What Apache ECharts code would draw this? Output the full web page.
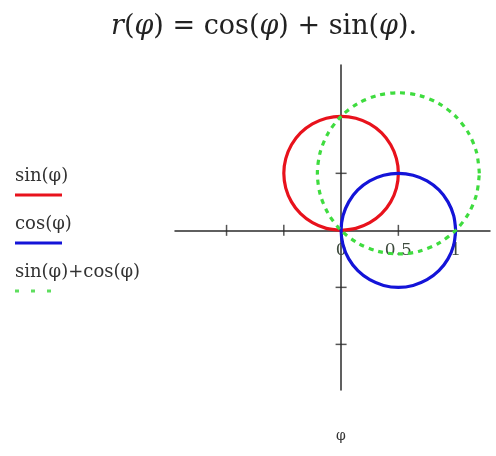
<!DOCTYPE html>
<html>
<head>
<meta charset="utf-8">
<script src="https://cdn.jsdelivr.net/npm/echarts@6/dist/echarts.min.js"></script>
<style>
	html, body { margin: 0; padding: 0; background: #fff; }
	#chart { width: 496px; height: 456px; }
</style>
</head>
<body>
<div id="chart"></div>
<script>
const sinPts = [
	[0, 0], [0.129, 0.017], [0.25, 0.067], [0.354, 0.146], [0.433, 0.25], [0.483, 0.371],
	[0.5, 0.5], [0.483, 0.629], [0.433, 0.75], [0.354, 0.854], [0.25, 0.933], [0.129, 0.983],
	[0, 1], [-0.129, 0.983], [-0.25, 0.933], [-0.354, 0.854], [-0.433, 0.75], [-0.483, 0.629],
	[-0.5, 0.5], [-0.483, 0.371], [-0.433, 0.25], [-0.354, 0.146], [-0.25, 0.067], [-0.129, 0.017],
	[0, 0],
];
const cosPts = [
	[1, 0], [0.983, 0.129], [0.933, 0.25], [0.854, 0.354], [0.75, 0.433], [0.629, 0.483],
	[0.5, 0.5], [0.371, 0.483], [0.25, 0.433], [0.146, 0.354], [0.067, 0.25], [0.017, 0.129],
	[0, 0], [0.017, -0.129], [0.067, -0.25], [0.146, -0.354], [0.25, -0.433], [0.371, -0.483],
	[0.5, -0.5], [0.629, -0.483], [0.75, -0.433], [0.854, -0.354], [0.933, -0.25], [0.983, -0.129],
	[1, 0],
];
const sumPts = [
	[1.207, 0.5], [1.183, 0.683], [1.112, 0.854], [1.0, 1.0], [0.854, 1.112], [0.683, 1.183],
	[0.5, 1.207], [0.317, 1.183], [0.146, 1.112], [0, 1.0], [-0.112, 0.854], [-0.183, 0.683],
	[-0.207, 0.5], [-0.183, 0.317], [-0.112, 0.146], [0, 0], [0.146, -0.112], [0.317, -0.183],
	[0.5, -0.207], [0.683, -0.183], [0.854, -0.112], [1.0, 0], [1.112, 0.146], [1.183, 0.317],
	[1.207, 0.5],
];
const xTicks = [-1, -0.5, 0.5, 1];
const yTicks = [-1, -0.5, 0.5, 1];
const xLabels = [0, 0.5, 1];
const seriesNames = ['sin(\u03c6)', 'cos(\u03c6)', 'sin(\u03c6)+cos(\u03c6)'];

const serif = '"DejaVu Serif", "Liberation Serif", serif';
const axisColor = '#2b2b2b';
const colorList = ['#e8121c', '#1414d8', '#3fdc3f'];

const xMin = -1.45, xMax = 1.3, yMin = -1.4, yMax = 1.45;
const gridTop = 65, gridBottom = 66;
const gridHeight = 456 - gridTop - gridBottom;
// x axis sits on y = 0, labels follow it
const xAxisOffset = -gridHeight * (0 - yMin) / (yMax - yMin);

const chart = echarts.init(document.getElementById('chart'), null, { renderer: 'canvas' });

// legend is drawn Mathcad style: name on top, line sample below
const legendItems = [];
seriesNames.forEach((name, i) => {
	const y = 167 + i * 48;
	legendItems.push({
		type: 'text',
		left: 15,
		top: y,
		style: { text: name, font: '18px ' + serif, fill: '#333' },
	});
	legendItems.push({
		type: 'line',
		shape: { x1: 15, y1: y + 28, x2: 62, y2: y + 28 },
		style: {
			stroke: i === 2 ? '#5ede5e' : colorList[i],
			lineWidth: 3,
			lineDash: i === 2 ? [4, 12] : null,
		},
	});
});

const option = {
	animation: false,
	title: {
		text: '{i|r}({i|\u03c6}) = cos({i|\u03c6}) + sin({i|\u03c6}).',
		left: 106,
		top: 8,
		textStyle: {
			fontFamily: serif,
			fontSize: 27,
			fontWeight: 'normal',
			color: '#222',
			rich: {
				i: { fontFamily: serif, fontSize: 27, fontStyle: 'italic', color: '#222' },
			},
		},
	},
	grid: { left: 175, right: 6, top: gridTop, bottom: gridBottom },
	xAxis: {
		type: 'value',
		min: xMin,
		max: xMax,
		position: 'bottom',
		offset: xAxisOffset,
		axisLine: { onZero: false, lineStyle: { color: axisColor, width: 1.5 } },
		axisTick: { show: false },
		splitLine: { show: false },
		axisLabel: {
			customValues: xLabels,
			margin: 12,
			fontFamily: serif,
			fontSize: 17,
			color: '#3d4a3d',
			formatter: (v) => String(v),
		},
	},
	yAxis: {
		type: 'value',
		min: yMin,
		max: yMax,
		axisLine: { onZero: true, lineStyle: { color: axisColor, width: 1.5 } },
		axisTick: { show: false },
		splitLine: { show: false },
		axisLabel: { show: false },
	},
	graphic: legendItems.concat([
		{
			type: 'text',
			left: 336,
			top: 429,
			style: { text: '\u03c6', font: '14px ' + serif, fill: '#333' },
		},
	]),
	series: [
		{
			name: 'ticksX',
			type: 'scatter',
			silent: true,
			symbol: 'rect',
			symbolSize: [1.5, 11],
			itemStyle: { color: axisColor },
			data: xTicks.map((v) => [v, 0]),
		},
		{
			name: 'ticksY',
			type: 'scatter',
			silent: true,
			symbol: 'rect',
			symbolSize: [11, 1.5],
			itemStyle: { color: axisColor },
			data: yTicks.map((v) => [0, v]),
		},
		{
			name: seriesNames[0],
			type: 'line',
			showSymbol: false,
			smooth: 0.3,
			lineStyle: { color: colorList[0], width: 3.2 },
			data: sinPts,
		},
		{
			name: seriesNames[1],
			type: 'line',
			showSymbol: false,
			smooth: 0.3,
			lineStyle: { color: colorList[1], width: 3.2 },
			data: cosPts,
		},
		{
			name: seriesNames[2],
			type: 'line',
			showSymbol: false,
			smooth: 0.3,
			lineStyle: { color: colorList[2], width: 3.2, type: [5, 5] },
			data: sumPts,
		},
	],
};
chart.setOption(option);
</script>
</body>
</html>
